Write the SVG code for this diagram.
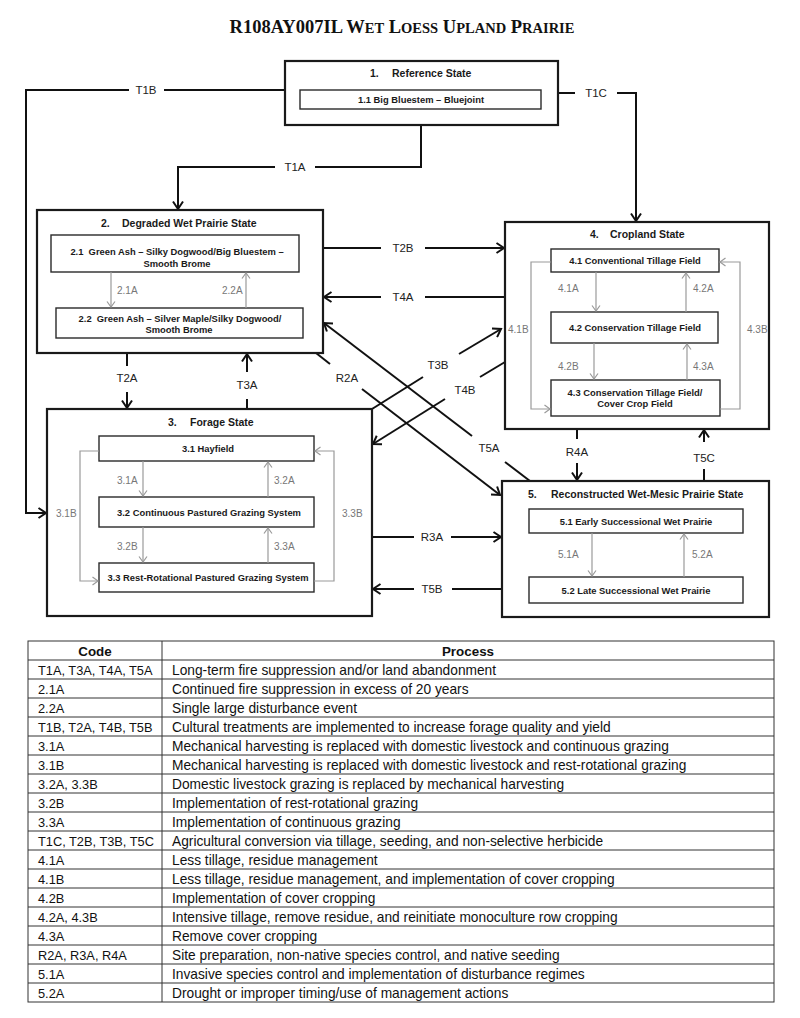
<svg xmlns="http://www.w3.org/2000/svg" width="800" height="1018" viewBox="0 0 800 1018">
<style>
.state{fill:#fff;stroke:#1a1a1a;stroke-width:2.2}
.sub{fill:#fff;stroke:#2a2a2a;stroke-width:1.4}
.st{font-family:"Liberation Sans",Arial,sans-serif;font-size:10.5px;font-weight:bold;fill:#1a1a1a}
.sb{font-family:"Liberation Sans",Arial,sans-serif;font-size:9.4px;font-weight:bold;fill:#1a1a1a;text-anchor:middle;white-space:pre}
.con{fill:none;stroke:#111;stroke-width:2}
.g{fill:none;stroke:#9a9a9a;stroke-width:1.2}
.cl{font-family:"Liberation Sans",Arial,sans-serif;font-size:11.5px;fill:#222;text-anchor:middle}
.gl{font-family:"Liberation Sans",Arial,sans-serif;font-size:10px;fill:#777}
.tl{fill:none;stroke:#333;stroke-width:1}
.tt{font-family:"Liberation Sans",Arial,sans-serif;font-size:13.75px;fill:#111}
.tc{font-family:"Liberation Sans",Arial,sans-serif;font-size:12.8px;fill:#111}
.th{font-family:"Liberation Sans",Arial,sans-serif;font-size:13.4px;font-weight:bold;fill:#111;text-anchor:middle}
.title{font-family:"Liberation Serif","Times New Roman",serif;font-weight:bold;fill:#111}
</style>
<defs>
<marker id="ah" markerUnits="userSpaceOnUse" markerWidth="12" markerHeight="12" refX="10" refY="6" orient="auto">
<path d="M2.5,1 L10,6 L2.5,11" fill="none" stroke="#111" stroke-width="2"/>
</marker>
<marker id="ga" markerUnits="userSpaceOnUse" markerWidth="10" markerHeight="10" refX="8" refY="5" orient="auto">
<path d="M2.5,1 L8,5 L2.5,9" fill="none" stroke="#9a9a9a" stroke-width="1.2"/>
</marker>
</defs>
<rect width="800" height="1018" fill="#fff"/>

<text class="title" x="402" y="33" text-anchor="middle" font-size="18.5">R108AY007IL W<tspan font-size="14.5">ET</tspan> L<tspan font-size="14.5">OESS</tspan> U<tspan font-size="14.5">PLAND</tspan> P<tspan font-size="14.5">RAIRIE</tspan></text>

<g id="connectors">
<path class="con" d="M285,90 H164"/>
<path class="con" d="M129,90 H26 V513 H46" marker-end="url(#ah)"/>
<text class="cl" x="146" y="94">T1B</text>
<path class="con" d="M558,93 H575"/>
<path class="con" d="M617,93 H636 V221" marker-end="url(#ah)"/>
<text class="cl" x="596" y="97">T1C</text>
<path class="con" d="M421,125 V167 H315"/>
<path class="con" d="M275,167 H178 V209" marker-end="url(#ah)"/>
<text class="cl" x="295" y="171">T1A</text>
<path class="con" d="M323,248 H381"/>
<path class="con" d="M425,248 H504" marker-end="url(#ah)"/>
<text class="cl" x="403" y="252">T2B</text>
<path class="con" d="M505,297 H425"/>
<path class="con" d="M381,297 H324" marker-end="url(#ah)"/>
<text class="cl" x="403" y="301">T4A</text>
<path class="con" d="M127,353 V366"/>
<path class="con" d="M127,392 V408" marker-end="url(#ah)"/>
<text class="cl" x="127" y="382">T2A</text>
<path class="con" d="M247,409 V399"/>
<path class="con" d="M247,372 V354" marker-end="url(#ah)"/>
<text class="cl" x="247" y="388.5">T3A</text>
<path class="con" d="M316,353 L330,364"/>
<path class="con" d="M362,389 L500,495" marker-end="url(#ah)"/>
<text class="cl" x="347" y="382">R2A</text>
<path class="con" d="M530,481 L505,462"/>
<path class="con" d="M472,436 L324,323" marker-end="url(#ah)"/>
<text class="cl" x="489" y="452">T5A</text>
<path class="con" d="M372,409 L423,377"/>
<path class="con" d="M459,354 L501,329" marker-end="url(#ah)"/>
<text class="cl" x="438" y="369">T3B</text>
<path class="con" d="M505,362 L480,377"/>
<path class="con" d="M445,399 L373,444" marker-end="url(#ah)"/>
<text class="cl" x="465" y="394">T4B</text>
<path class="con" d="M577,429 V439"/>
<path class="con" d="M577,463 V480" marker-end="url(#ah)"/>
<text class="cl" x="577" y="456">R4A</text>
<path class="con" d="M704,481 V469"/>
<path class="con" d="M704,442 V430" marker-end="url(#ah)"/>
<text class="cl" x="704" y="462">T5C</text>
<path class="con" d="M372,537 H414"/>
<path class="con" d="M451,537 H501" marker-end="url(#ah)"/>
<text class="cl" x="432" y="541">R3A</text>
<path class="con" d="M502,589 H452"/>
<path class="con" d="M414,589 H373" marker-end="url(#ah)"/>
<text class="cl" x="432" y="593">T5B</text>
</g>

<g id="state1">
<rect class="state" x="285" y="61" width="273" height="64"/>
<text class="st" x="370" y="77">1.</text>
<text class="st" x="392" y="77">Reference State</text>
<g id="s1-1">
<rect class="sub" x="300" y="90" width="241" height="19"/>
<text class="sb" x="421" y="103">1.1 Big Bluestem – Bluejoint</text>
</g>
</g>

<g id="state2">
<rect class="state" x="37" y="210" width="286" height="143"/>
<text class="st" x="101" y="227">2.</text>
<text class="st" x="122" y="227">Degraded Wet Prairie State</text>
<g id="s2-1">
<rect class="sub" x="51" y="235" width="248" height="37"/>
<text class="sb" x="177" y="255">2.1  Green Ash – Silky Dogwood/Big Bluestem –</text>
<text class="sb" x="177" y="267">Smooth Brome</text>
</g>
<g id="s2-2">
<rect class="sub" x="56" y="308" width="247" height="30"/>
<text class="sb" x="180" y="321.5">2.2  Green Ash – Silver Maple/Silky Dogwood/</text>
<text class="sb" x="179" y="332.5">Smooth Brome</text>
</g>
<path class="g" d="M111,272 V307" marker-end="url(#ga)"/>
<path class="g" d="M246,308 V273" marker-end="url(#ga)"/>
<text class="gl" x="117" y="293.5">2.1A</text>
<text class="gl" x="222" y="293.5">2.2A</text>
</g>

<g id="state4">
<rect class="state" x="505" y="222" width="264" height="207"/>
<text class="st" x="590" y="238">4.</text>
<text class="st" x="610" y="238">Cropland State</text>
<g id="s4-1">
<rect class="sub" x="551" y="249" width="168" height="23"/>
<text class="sb" x="635" y="264">4.1 Conventional Tillage Field</text>
</g>
<g id="s4-2">
<rect class="sub" x="551" y="312" width="167" height="31"/>
<text class="sb" x="635" y="330.5">4.2 Conservation Tillage Field</text>
</g>
<g id="s4-3">
<rect class="sub" x="551" y="380" width="169" height="36"/>
<text class="sb" x="635" y="395.5">4.3 Conservation Tillage Field/</text>
<text class="sb" x="635" y="407">Cover Crop Field</text>
</g>
<path class="g" d="M596,272 V311" marker-end="url(#ga)"/>
<path class="g" d="M686,312 V273" marker-end="url(#ga)"/>
<path class="g" d="M594,343 V379" marker-end="url(#ga)"/>
<path class="g" d="M687,380 V344" marker-end="url(#ga)"/>
<path class="g" d="M551,262 H531 V409 H550" marker-end="url(#ga)"/>
<path class="g" d="M720,409 H740 V262 H720" marker-end="url(#ga)"/>
<text class="gl" x="558" y="292">4.1A</text>
<text class="gl" x="693" y="292">4.2A</text>
<text class="gl" x="558" y="369.5">4.2B</text>
<text class="gl" x="693" y="369.5">4.3A</text>
<text class="gl" x="508" y="333">4.1B</text>
<text class="gl" x="747" y="333">4.3B</text>
</g>

<g id="state3">
<rect class="state" x="47" y="409" width="325" height="207"/>
<text class="st" x="168" y="425.5">3.</text>
<text class="st" x="190" y="425.5">Forage State</text>
<g id="s3-1">
<rect class="sub" x="99" y="436" width="215" height="25"/>
<text class="sb" x="208" y="452">3.1 Hayfield</text>
</g>
<g id="s3-2">
<rect class="sub" x="99" y="497" width="215" height="30"/>
<text class="sb" x="209" y="515.5">3.2 Continuous Pastured Grazing System</text>
</g>
<g id="s3-3">
<rect class="sub" x="99" y="563" width="215" height="29"/>
<text class="sb" x="208" y="581">3.3 Rest-Rotational Pastured Grazing System</text>
</g>
<path class="g" d="M143,461 V496" marker-end="url(#ga)"/>
<path class="g" d="M268,497 V462" marker-end="url(#ga)"/>
<path class="g" d="M143,527 V562" marker-end="url(#ga)"/>
<path class="g" d="M268,563 V528" marker-end="url(#ga)"/>
<path class="g" d="M99,451 H80 V581 H98" marker-end="url(#ga)"/>
<path class="g" d="M314,581 H334 V451 H315" marker-end="url(#ga)"/>
<text class="gl" x="117" y="483.5">3.1A</text>
<text class="gl" x="274" y="483.5">3.2A</text>
<text class="gl" x="117" y="550">3.2B</text>
<text class="gl" x="274" y="550">3.3A</text>
<text class="gl" x="56" y="517">3.1B</text>
<text class="gl" x="342" y="517">3.3B</text>
</g>

<g id="state5">
<rect class="state" x="502" y="481" width="267" height="136"/>
<text class="st" x="528" y="497.5">5.</text>
<text class="st" x="551" y="497.5">Reconstructed Wet-Mesic Prairie State</text>
<g id="s5-1">
<rect class="sub" x="529" y="509" width="214" height="24"/>
<text class="sb" x="636" y="524.5">5.1 Early Successional Wet Prairie</text>
</g>
<g id="s5-2">
<rect class="sub" x="529" y="577" width="214" height="26"/>
<text class="sb" x="636" y="593.5">5.2 Late Successional Wet Prairie</text>
</g>
<path class="g" d="M592,533 V576" marker-end="url(#ga)"/>
<path class="g" d="M684,577 V534" marker-end="url(#ga)"/>
<text class="gl" x="558" y="557.5">5.1A</text>
<text class="gl" x="692" y="557.5">5.2A</text>
</g>

<g id="table">
<rect class="tl" x="28" y="641" width="746" height="361"/>
<path class="tl" d="M162,641 V1002 M28,660 H774 M28,679 H774 M28,698 H774 M28,717 H774 M28,736 H774 M28,755 H774 M28,774 H774 M28,793 H774 M28,812 H774 M28,831 H774 M28,850 H774 M28,869 H774 M28,888 H774 M28,907 H774 M28,926 H774 M28,945 H774 M28,964 H774 M28,983 H774"/>
<text class="th" x="95" y="655.5">Code</text>
<text class="th" x="468" y="655.5">Process</text>
<text class="tc" x="38" y="674.5">T1A, T3A, T4A, T5A</text>
<text class="tt" x="172" y="674.5">Long-term fire suppression and/or land abandonment</text>
<text class="tc" x="38" y="693.5">2.1A</text>
<text class="tt" x="172" y="693.5">Continued fire suppression in excess of 20 years</text>
<text class="tc" x="38" y="712.5">2.2A</text>
<text class="tt" x="172" y="712.5">Single large disturbance event</text>
<text class="tc" x="38" y="731.5">T1B, T2A, T4B, T5B</text>
<text class="tt" x="172" y="731.5">Cultural treatments are implemented to increase forage quality and yield</text>
<text class="tc" x="38" y="750.5">3.1A</text>
<text class="tt" x="172" y="750.5">Mechanical harvesting is replaced with domestic livestock and continuous grazing</text>
<text class="tc" x="38" y="769.5">3.1B</text>
<text class="tt" x="172" y="769.5">Mechanical harvesting is replaced with domestic livestock and rest-rotational grazing</text>
<text class="tc" x="38" y="788.5">3.2A, 3.3B</text>
<text class="tt" x="172" y="788.5">Domestic livestock grazing is replaced by mechanical harvesting</text>
<text class="tc" x="38" y="807.5">3.2B</text>
<text class="tt" x="172" y="807.5">Implementation of rest-rotational grazing</text>
<text class="tc" x="38" y="826.5">3.3A</text>
<text class="tt" x="172" y="826.5">Implementation of continuous grazing</text>
<text class="tc" x="38" y="845.5">T1C, T2B, T3B, T5C</text>
<text class="tt" x="172" y="845.5">Agricultural conversion via tillage, seeding, and non-selective herbicide</text>
<text class="tc" x="38" y="864.5">4.1A</text>
<text class="tt" x="172" y="864.5">Less tillage, residue management</text>
<text class="tc" x="38" y="883.5">4.1B</text>
<text class="tt" x="172" y="883.5">Less tillage, residue management, and implementation of cover cropping</text>
<text class="tc" x="38" y="902.5">4.2B</text>
<text class="tt" x="172" y="902.5">Implementation of cover cropping</text>
<text class="tc" x="38" y="921.5">4.2A, 4.3B</text>
<text class="tt" x="172" y="921.5">Intensive tillage, remove residue, and reinitiate monoculture row cropping</text>
<text class="tc" x="38" y="940.5">4.3A</text>
<text class="tt" x="172" y="940.5">Remove cover cropping</text>
<text class="tc" x="38" y="959.5">R2A, R3A, R4A</text>
<text class="tt" x="172" y="959.5">Site preparation, non-native species control, and native seeding</text>
<text class="tc" x="38" y="978.5">5.1A</text>
<text class="tt" x="172" y="978.5">Invasive species control and implementation of disturbance regimes</text>
<text class="tc" x="38" y="997.5">5.2A</text>
<text class="tt" x="172" y="997.5">Drought or improper timing/use of management actions</text>
</g>
</svg>
